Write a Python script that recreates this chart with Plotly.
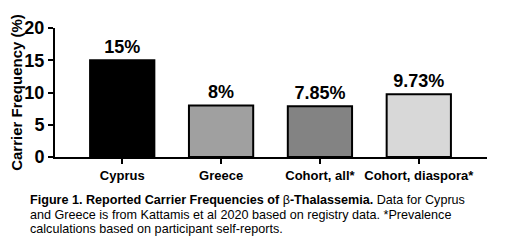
import plotly.graph_objects as go

categories = ["Cyprus", "Greece", "Cohort, all*", "Cohort, diaspora*"]
values = [15, 8, 7.85, 9.73]
value_labels = ["15%", "8%", "7.85%", "9.73%"]
bar_colors = ["#000000", "#a0a0a0", "#838383", "#d8d8d8"]
y_ticks = [0, 5, 10, 15, 20]
caption_lines = [
    "<b>Figure 1. Reported Carrier Frequencies of </b>β<b>-Thalassemia.</b> Data for Cyprus",
    "and Greece is from Kattamis et al 2020 based on registry data. *Prevalence",
    "calculations based on participant self-reports.",
]

FONT = "Liberation Sans, Arial, sans-serif"
OFF = 8  # default page body margin
FW, FH = 520 - OFF, 247 - OFF
L, T, W, H = 55 - OFF, 28 - OFF, 432, 129

fig = go.Figure(go.Bar(
    x=list(range(len(categories))), y=values,
    text=value_labels, textposition="outside",
    textfont=dict(family=FONT, size=18, color="#000"),
    texttemplate="<b>%{text}</b>",
    marker=dict(color=bar_colors, line=dict(color="#000", width=2)),
    width=0.65, cliponaxis=False,
))

fig.update_layout(
    width=FW, height=FH,
    margin=dict(l=L, r=FW - L - W, t=T, b=FH - T - H),
    paper_bgcolor="white", plot_bgcolor="white",
    showlegend=False,
    font=dict(family=FONT, color="#000"),
    xaxis=dict(
        range=[-0.68, 3.69], automargin=False,
        showline=True, linecolor="#000", linewidth=2,
        ticks="outside", ticklen=5, tickwidth=2, tickcolor="#000",
        tickfont=dict(family=FONT, size=13, color="#000"),
        tickvals=list(range(len(categories))),
        ticktext=["<b>%s</b>" % c for c in categories],
        showgrid=False, zeroline=False,
    ),
    yaxis=dict(
        range=[0, 20], automargin=False,
        showline=True, linecolor="#000", linewidth=2,
        ticks="outside", ticklen=5, tickwidth=2, tickcolor="#000",
        tickvals=y_ticks, ticktext=["<b>%d</b>" % t for t in y_ticks],
        tickfont=dict(family=FONT, size=18, color="#000"),
        showgrid=False, zeroline=False,
        title=dict(text="<b>Carrier Frequency (%)</b>",
                   font=dict(family=FONT, size=15, color="#000"), standoff=1),
    ),
)

line_centers = [200, 214.5, 229]
for txt, yc in zip(caption_lines, line_centers):
    fig.add_annotation(
        text=txt, xref="paper", yref="paper",
        x=(28 - 55) / W, y=(28 + H - yc) / H,
        xanchor="left", yanchor="middle", align="left", showarrow=False,
        font=dict(family=FONT, size=12.6, color="#000"),
    )

fig.write_html("out.html")
